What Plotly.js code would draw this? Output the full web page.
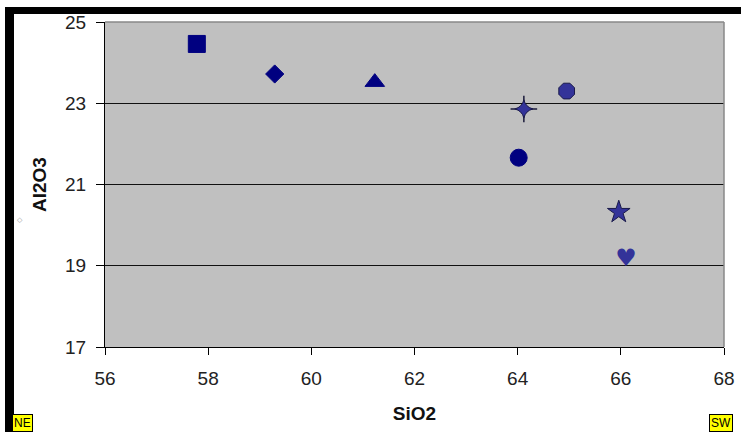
<!DOCTYPE html>
<html><head><meta charset="utf-8">
<script src="https://cdn.plot.ly/plotly-3.0.1.min.js"></script>
<style>html,body{margin:0;padding:0;background:#fff;}#chart{width:741px;height:432px;}</style>
</head><body><div id="chart"></div>
<script>
// Data (SiO2 vs Al2O3)
const sio2   = [57.78, 59.29, 61.23, 64.02, 64.95, 65.96];
const al2o3  = [24.46, 23.72, 23.52, 21.66, 23.30, 20.32];
const symbols = ['square', 'diamond', 'triangle-up', 'circle', 'octagon', 'star'];
const sparkleX = [64.12];
const sparkleY = [22.86];
const heartX = [66.10];
const heartY = [19.14];
const xTicks = [56, 58, 60, 62, 64, 66, 68];
const yTicks = [17, 19, 21, 23, 25];

const navy = '#000080';
const blue = '#333399';
const fills = [navy, navy, navy, navy, blue, blue];
const sizes = [17, 14, 17, 17, 17, 17];
const lines = [navy, navy, navy, navy, '#1a1a4a', '#1a1a4a'];

const L = 105, R = 724, T = 22, B = 347, W = 741, H = 432;
const pw = R - L, ph = B - T;
const px = v => (v - L) / pw;
const py = v => (B - v) / ph;

const traces = [
  {x: sio2, y: al2o3, type: 'scatter', mode: 'markers', hoverinfo: 'skip',
   marker: {symbol: symbols, color: fills, size: sizes, opacity: 1, line: {color: lines, width: 1}}},
  {x: sparkleX, y: sparkleY, type: 'scatter', mode: 'markers', hoverinfo: 'skip',
   marker: {symbol: 'cross-thin', size: 19, opacity: 1, line: {color: '#1a1a3a', width: 1.5}}},
  {x: sparkleX, y: sparkleY, type: 'scatter', mode: 'markers', hoverinfo: 'skip',
   marker: {symbol: 'star-diamond', size: 13, color: blue, opacity: 1, line: {color: '#1a1a4a', width: 1}}},
  {x: heartX, y: heartY, type: 'scatter', mode: 'text', text: ['♥'], hoverinfo: 'skip',
   textfont: {family: 'DejaVu Sans', size: 24, color: blue}, textposition: 'middle center'}
];

const font = {family: 'Liberation Sans, Arial, sans-serif', size: 19, color: '#222'};
const tfont = {family: font.family, size: 19, color: '#111'};
const layout = {
  width: W, height: H,
  margin: {l: L, r: W - R, t: T, b: H - B},
  paper_bgcolor: '#fff', plot_bgcolor: '#c0c0c0',
  showlegend: false,
  font: font,
  xaxis: {range: [56, 68], tickvals: xTicks, showgrid: false, zeroline: false,
          showline: true, linecolor: '#000', linewidth: 1,
          ticks: 'outside', ticklen: 7, tickcolor: '#000', tickfont: font, ticklabelstandoff: 7,
          title: {text: '<b>SiO2</b>', font: tfont, standoff: 18}},
  yaxis: {range: [17, 25], tickvals: yTicks, showgrid: true, gridcolor: '#111', gridwidth: 1,
          zeroline: false, showline: true, linecolor: '#000', linewidth: 1,
          ticks: 'outside', ticklen: 8, tickcolor: '#000', tickfont: font, ticklabelstandoff: 6,
          title: {text: '<b>Al2O3</b>', font: tfont, standoff: 13}},
  shapes: [
    {type: 'line', xref: 'paper', yref: 'paper', x0: 0, x1: 1, y0: 1, y1: 1, line: {color: '#888', width: 1.5}, layer: 'above'},
    {type: 'line', xref: 'paper', yref: 'paper', x0: 1, x1: 1, y0: 0, y1: 1, line: {color: '#888', width: 1.5}, layer: 'above'},
    {type: 'rect', xref: 'paper', yref: 'paper', x0: px(5), x1: px(14), y0: py(H + 5), y1: py(7), fillcolor: '#000', line: {width: 0}},
    {type: 'rect', xref: 'paper', yref: 'paper', x0: px(5), x1: px(W + 5), y0: py(14), y1: py(7), fillcolor: '#000', line: {width: 0}}
  ],
  annotations: [
    {xref: 'paper', yref: 'paper', x: px(12), y: py(414), xanchor: 'left', yanchor: 'top', showarrow: false,
     text: 'NE', bgcolor: '#ffff00', bordercolor: '#000', borderwidth: 1, borderpad: 1,
     font: {family: font.family, size: 12, color: '#000'}},
    {xref: 'paper', yref: 'paper', x: px(709), y: py(414), xanchor: 'left', yanchor: 'top', showarrow: false,
     text: 'SW', bgcolor: '#ffff00', bordercolor: '#000', borderwidth: 1, borderpad: 1,
     font: {family: font.family, size: 12, color: '#000'}},
    {xref: 'paper', yref: 'paper', x: px(15), y: py(220), showarrow: false,
     text: '◇', font: {family: 'DejaVu Sans', size: 7, color: '#999'}}
  ]
};
Plotly.newPlot('chart', traces, layout, {staticPlot: true, displayModeBar: false});
</script></body></html>
